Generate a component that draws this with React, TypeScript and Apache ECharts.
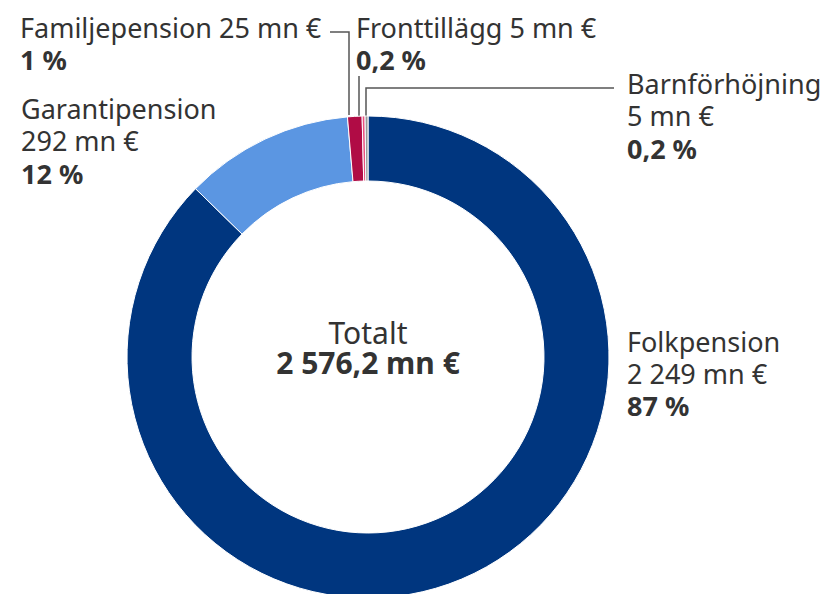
import React, { useEffect, useRef } from "react";
import * as echarts from "echarts";

const categories = ["Folkpension", "Garantipension", "Familjepension", "Fronttillägg", "Barnförhöjning"];
const values = [2249, 292, 25, 5, 5];
const amountLabels = ["2 249 mn €", "292 mn €", "25 mn €", "5 mn €", "5 mn €"];
const percentLabels = ["87 %", "12 %", "1 %", "0,2 %", "0,2 %"];
const colors = ["#00367f", "#5b96e2", "#b00c45", "#e9507f", "#9a9a9a"];
const totalTitle = "Totalt";
const totalValue = "2 576,2 mn €";

const FONT = "'Noto Sans', 'Open Sans', sans-serif";
const FS = 27;
const LH = 32.5;
const CFS = 30;
const CLH = 30;
const TEXT_COLOR = "#333333";
const LINE_COLOR = "#555555";

function block(x: number, firstBaseline: number, lines: { t: string; b?: boolean }[], fs = FS, lh = LH, align = "left") {
  const text = lines.map((l) => `{${l.b ? "b" : "a"}|${l.t}}`).join("\n");
  return {
    type: "text",
    x,
    y: firstBaseline - fs * 0.36 - lh / 2,
    style: {
      text,
      fill: TEXT_COLOR,
      align,
      verticalAlign: "top",
      font: `${fs}px ${FONT}`,
      lineHeight: lh,
      rich: {
        a: { font: `${fs}px ${FONT}`, fill: TEXT_COLOR, lineHeight: lh, align },
        b: { font: `bold ${fs}px ${FONT}`, fill: TEXT_COLOR, lineHeight: lh, align },
      },
    },
  };
}

export default function App() {
  const ref = useRef<HTMLDivElement>(null);
  useEffect(() => {
    document.body.style.margin = "0";
    if (!ref.current) return;
    const chart = echarts.init(ref.current, undefined, { renderer: "svg" });
    const data = categories.map((name, i) => ({ name, value: values[i], itemStyle: { color: colors[i] } }));
    const graphics: any[] = [
      block(627, 351, [{ t: categories[0] }, { t: amountLabels[0] }, { t: percentLabels[0], b: true }], FS, 32),
      block(21, 118, [{ t: categories[1] }, { t: amountLabels[1] }, { t: percentLabels[1], b: true }]),
      block(20, 37, [{ t: `${categories[2]} ${amountLabels[2]}` }, { t: percentLabels[2], b: true }]),
      block(356, 37, [{ t: `${categories[3]} ${amountLabels[3]}` }, { t: percentLabels[3], b: true }]),
      block(627, 93, [{ t: categories[4] }, { t: amountLabels[4] }, { t: percentLabels[4], b: true }]),
      block(368, 343, [{ t: totalTitle }, { t: totalValue, b: true }], CFS, CLH, "center"),
      {
        type: "polyline",
        shape: { points: [[330, 32], [349, 32], [349, 115]] },
        style: { stroke: LINE_COLOR, lineWidth: 1.5, fill: "none" },
      },
      {
        type: "polyline",
        shape: { points: [[359, 76], [359, 116]] },
        style: { stroke: LINE_COLOR, lineWidth: 1.5, fill: "none" },
      },
      {
        type: "polyline",
        shape: { points: [[614, 88], [366, 88], [366, 116]] },
        style: { stroke: LINE_COLOR, lineWidth: 1.5, fill: "none" },
      },
    ];
    chart.setOption({
      animation: false,
      backgroundColor: "#ffffff",
      series: [
        {
          type: "pie",
          center: [368, 357],
          radius: [176, 241],
          startAngle: 90,
          clockwise: true,
          data,
          label: { show: false },
          labelLine: { show: false },
          emphasis: { disabled: true },
          itemStyle: { borderColor: "#ffffff", borderWidth: 1 },
        },
      ],
      graphic: graphics,
    });
    return () => chart.dispose();
  }, []);
  return <div ref={ref} style={{ width: 824, height: 594 }} />;
}
